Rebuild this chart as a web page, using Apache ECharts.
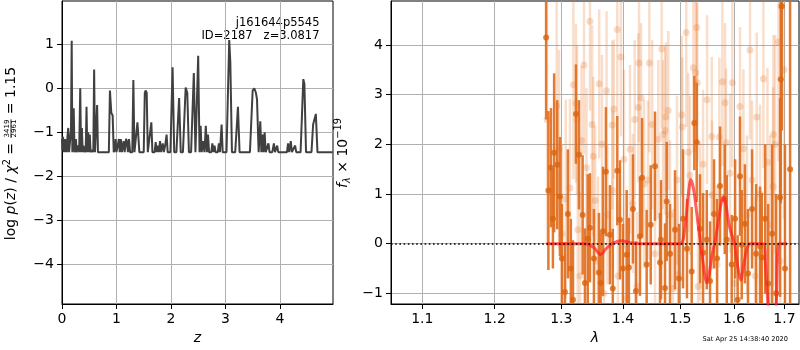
<!DOCTYPE html>
<html>
<head>
<meta charset="utf-8">
<script src="https://cdn.jsdelivr.net/npm/echarts@6/dist/echarts.min.js"></script>
<style>
  html, body { margin: 0; padding: 0; background: #fff; }
  #chart { width: 800px; height: 350px; }
</style>
</head>
<body>
<div id="chart"></div>
<script>
// ---- left panel: log p(z) ----
const zGrid = [
  0.00, 0.01, 0.02, 0.03, 0.04, 0.05, 0.06, 0.07, 0.08, 0.09, 0.10, 0.115, 0.13, 0.15, 0.165, 0.178, 0.19, 0.20, 0.215, 0.23,
  0.245, 0.255, 0.27, 0.285, 0.30, 0.315, 0.335, 0.35, 0.365, 0.38, 0.395, 0.41, 0.425, 0.435, 0.45, 0.465, 0.48, 0.50, 0.51, 0.525,
  0.54, 0.555, 0.575, 0.59, 0.605, 0.625, 0.645, 0.66, 0.86, 0.88, 0.905, 0.93, 0.95, 0.97, 0.985, 1.00, 1.02, 1.045, 1.06, 1.08,
  1.10, 1.13, 1.15, 1.175, 1.19, 1.21, 1.23, 1.25, 1.29, 1.31, 1.33, 1.365, 1.385, 1.40, 1.42, 1.50, 1.52, 1.535, 1.555, 1.575,
  1.61, 1.64, 1.66, 1.70, 1.72, 1.74, 1.76, 1.78, 1.80, 1.82, 1.85, 1.87, 1.90, 1.92, 1.94, 1.99, 2.03, 2.06, 2.10, 2.15,
  2.18, 2.22, 2.27, 2.30, 2.33, 2.37, 2.42, 2.45, 2.47, 2.50, 2.525, 2.545, 2.565, 2.59, 2.615, 2.64, 2.66, 2.68, 2.70, 2.74,
  2.76, 2.78, 2.80, 2.82, 2.86, 2.88, 2.90, 2.93, 2.95, 3.02, 3.07, 3.09, 3.12, 3.18, 3.23, 3.26, 3.45, 3.50, 3.53, 3.56,
  3.58, 3.61, 3.64, 3.66, 3.68, 3.70, 3.72, 3.74, 3.77, 3.79, 3.81, 3.86, 3.89, 3.91, 3.95, 3.97, 4.13, 4.15, 4.17, 4.20,
  4.22, 4.28, 4.30, 4.38, 4.43, 4.45, 4.48, 4.58, 4.61, 4.635, 4.66, 4.69, 4.97
];
const logPz = [
  -1.15, -1.40, -1.10, -1.45, -1.20, -1.45, -1.15, -1.45, -1.25, -1.45, -1.10, -0.90, -1.45, -1.45, -0.95, 1.08, -1.45, -1.20, -0.45, -1.45,
  -1.40, -1.15, -1.45, -1.45, -1.30, -1.45, 0.00, -1.45, -0.90, -1.45, -1.30, -1.45, -1.40, -1.45, -0.42, -1.45, -1.00, -1.45, -1.05, -1.45,
  -1.45, -1.40, -1.45, 0.43, -1.45, -1.45, -0.38, -1.45, -1.45, -0.05, -0.55, -0.62, -1.45, -1.40, -1.15, -1.45, -1.45, -1.15, -1.45, -1.15,
  -1.45, -1.20, -1.45, -1.15, -1.20, -1.45, -1.15, -1.45, -1.45, 0.19, -1.45, -1.45, -0.77, -0.80, -1.45, -1.45, -0.10, -0.05, -0.10, -1.45,
  -1.45, -0.77, -1.45, -1.45, -1.22, -1.45, -1.30, -1.45, -1.20, -1.45, -1.25, -1.45, -1.25, -1.05, -1.45, -1.45, 0.48, -1.45, -1.45, -0.22,
  -1.45, -1.45, 0.02, -0.10, -1.45, -1.45, 0.35, -1.45, -1.45, 0.74, -1.45, -0.85, -1.45, -1.20, -1.45, -0.85, -1.45, -1.05, -1.45, -1.45,
  -1.25, -1.45, -1.30, -1.45, -1.45, -1.25, -1.45, -0.82, -1.45, -1.45, 1.10, 0.60, -1.45, -1.45, -0.42, -1.45, -1.45, -0.05, 0.00, -0.10,
  -0.25, -1.45, -0.75, -1.45, -1.05, -1.45, -1.00, -1.45, -1.45, -1.25, -1.45, -1.45, -1.25, -1.45, -1.30, -1.45, -1.45, -1.25, -1.45, -1.20,
  -1.45, -1.30, -1.45, -1.45, 0.21, 0.10, -1.45, -1.45, -0.82, -0.80, -0.58, -1.45, -1.45
];
const zTicks = [0, 1, 2, 3, 4];
const pzTicks = [-4, -3, -2, -1, 0, 1];

// ---- right panel: spectrum ----
const lamTicks = [1.1, 1.2, 1.3, 1.4, 1.5, 1.6, 1.7];
const fluxTicks = [-1, 0, 1, 2, 3, 4];

const darkLam = [
  1.2765, 1.2800, 1.2840, 1.2870, 1.2889, 1.2937, 1.2979, 1.3010, 1.3057, 1.3104, 1.3150, 1.3184, 1.3231, 1.3279, 1.3338, 1.3375,
  1.3420, 1.3456, 1.3520, 1.3602, 1.3630, 1.3667, 1.3716, 1.3783, 1.3830, 1.3905, 1.3950, 1.4000, 1.4063, 1.4100, 1.4169, 1.4220,
  1.4290, 1.4325, 1.4405, 1.4475, 1.4550, 1.4638, 1.4655, 1.4726, 1.4756, 1.4815, 1.4904, 1.4976, 1.5048, 1.5120, 1.5206, 1.5254,
  1.5298, 1.5359, 1.5415, 1.5484, 1.5545, 1.5620, 1.5677, 1.5733, 1.5822, 1.5860, 1.5955, 1.6020, 1.6070, 1.6115, 1.6148, 1.6210,
  1.6270, 1.6350, 1.6430, 1.6508, 1.6542, 1.6610, 1.6670, 1.6750, 1.6830, 1.6910, 1.6924, 1.6945, 1.7010, 1.7115
];
const darkFlux = [
  4.15, 1.07, 1.53, 0.50, 1.83, 1.59, 0.95, -0.30, -0.97, 0.60, -0.50, -1.13, 2.61, 1.79, 0.58, -0.79,
  0.10, 0.32, -0.30, -0.58, -0.79, 0.25, 1.45, 0.18, -0.90, 1.47, 0.48, -0.50, -0.22, -0.48, 0.70, -0.95,
  0.15, 1.33, -0.42, 0.38, 1.56, -0.38, 0.08, -0.89, 0.85, -0.20, 0.28, -0.70, 0.50, -0.10, -0.56, 2.43,
  2.04, 0.30, -0.18, 0.08, -0.75, 0.60, -0.30, 1.16, 0.89, 0.08, -0.42, 0.50, -1.13, 1.36, -0.02, 0.40,
  -0.60, 0.70, -0.20, -0.05, -0.28, 0.50, -0.80, 0.20, -1.00, 0.93, 3.31, 4.78, -0.50, 1.50
];
const darkErr = [
  1.65, 1.60, 1.20, 1.00, 1.60, 1.30, 1.20, 1.10, 1.00, 1.30, 1.00, 1.20, 1.00, 1.10, 1.20, 1.10,
  1.30, 1.10, 1.00, 1.20, 1.00, 1.30, 1.30, 1.00, 1.20, 1.10, 1.20, 0.90, 1.30, 1.00, 1.10, 1.00,
  1.20, 1.20, 1.10, 1.20, 1.10, 1.00, 1.20, 1.30, 1.20, 1.00, 1.20, 1.10, 1.40, 1.00, 1.30, 0.95,
  1.20, 1.10, 1.20, 1.00, 1.20, 1.10, 1.20, 1.20, 1.10, 1.30, 1.00, 1.20, 1.30, 1.20, 1.10, 1.20,
  1.30, 1.20, 1.40, 1.20, 1.30, 1.50, 1.60, 1.80, 2.00, 2.00, 2.50, 2.50, 2.50, 4.50
];

const lightLam = [
  1.2780, 1.2928, 1.2964, 1.3010, 1.3070, 1.3136, 1.3190, 1.3231, 1.3247, 1.3260, 1.3295, 1.3320, 1.3360, 1.3400, 1.3456, 1.3490,
  1.3510, 1.3540, 1.3586, 1.3606, 1.3652, 1.3684, 1.3727, 1.3740, 1.3821, 1.3830, 1.3848, 1.3905, 1.3916, 1.3966, 1.4017, 1.4068,
  1.4119, 1.4169, 1.4200, 1.4238, 1.4261, 1.4273, 1.4307, 1.4360, 1.4428, 1.4451, 1.4500, 1.4550, 1.4608, 1.4667, 1.4690, 1.4726,
  1.4744, 1.4784, 1.4815, 1.4868, 1.4940, 1.4958, 1.5024, 1.5035, 1.5107, 1.5144, 1.5175, 1.5236, 1.5280, 1.5298, 1.5310, 1.5322,
  1.5359, 1.5415, 1.5490, 1.5577, 1.5583, 1.5677, 1.5720, 1.5777, 1.5828, 1.5847, 1.5923, 1.5967, 1.6020, 1.6115, 1.6180, 1.6250,
  1.6310, 1.6350, 1.6410, 1.6442, 1.6508, 1.6575, 1.6655, 1.6708, 1.6770, 1.6775, 1.6810, 1.6877, 1.6910, 1.6930, 1.6990
];
const lightFlux = [
  2.50, 2.77, 1.90, 0.20, 0.90, 1.12, 3.20, 2.83, 2.50, 0.28, -0.65, 2.08, 3.60, 1.53, 4.48, 2.40,
  1.76, 0.87, -0.35, 3.22, 2.00, -1.00, 3.08, 0.58, 2.39, 1.07, 2.71, 4.31, -0.65, 3.76, 1.70, -1.10,
  1.90, 0.81, 2.50, -0.86, 2.74, 3.64, 2.94, 1.20, 1.28, 3.64, 2.40, -0.20, 2.10, 3.92, 2.20, 2.28,
  2.55, 2.68, 0.58, -0.90, 1.28, -0.62, 2.59, 2.35, 4.25, 1.84, 1.38, 3.54, 3.44, 4.35, 3.24, -0.86,
  0.45, 1.60, 2.90, 2.16, 0.98, -0.42, 2.15, 3.26, 2.84, 2.03, 1.42, 3.24, -0.80, 2.76, 1.91, 0.58,
  3.90, 1.28, -0.65, 2.55, 1.00, 3.32, 1.64, 0.38, 1.15, 2.20, 2.00, 4.06, -0.35, 4.78, 3.50
];
const lightErr = [
  2.50, 2.20, 2.00, 1.80, 2.00, 1.80, 1.90, 1.60, 1.50, 1.70, 1.70, 1.50, 1.80, 1.60, 1.80, 2.00,
  1.60, 1.50, 1.70, 1.50, 1.80, 1.50, 1.60, 1.40, 1.70, 1.60, 1.40, 1.80, 1.50, 1.60, 1.80, 1.60,
  1.70, 1.40, 1.60, 1.50, 1.50, 1.60, 1.50, 1.70, 1.60, 1.80, 1.70, 1.60, 1.60, 1.60, 1.50, 1.70,
  1.50, 1.60, 1.50, 1.60, 1.70, 1.60, 1.60, 1.40, 1.90, 1.60, 1.60, 1.70, 1.60, 1.90, 1.60, 1.50,
  1.60, 1.50, 1.70, 1.60, 1.50, 1.60, 1.60, 1.70, 1.60, 1.50, 1.60, 1.70, 1.50, 1.60, 1.60, 1.60,
  1.80, 1.60, 1.60, 1.70, 1.80, 1.80, 1.90, 1.80, 2.00, 2.00, 2.20, 2.40, 2.40, 2.50, 3.00
];

const modelLam = [
  1.277, 1.300, 1.340, 1.352, 1.363, 1.372, 1.382, 1.397, 1.412, 1.430, 1.470, 1.500, 1.508, 1.514, 1.519,
  1.524, 1.530, 1.537, 1.543, 1.548, 1.553, 1.558, 1.563, 1.570, 1.576, 1.580, 1.585, 1.590, 1.595, 1.601,
  1.607, 1.613, 1.619, 1.625, 1.631, 1.645, 1.657, 1.662, 1.667, 1.672, 1.678, 1.683, 1.688, 1.695, 1.705
];
const modelFlux = [
  0, 0, 0, -0.08, -0.22, -0.10, 0.00, 0.06, 0.02, 0, 0, 0, 0.30, 0.95, 1.29,
  1.10, 0.60, 0.00, -0.50, -0.79, -0.60, -0.25, 0.00, 0.45, 0.85, 0.95, 0.75, 0.40, 0.20, 0.00,
  -0.45, -0.73, -0.40, -0.10, 0, 0, 0, -0.50, -1.30, -2.00, -2.00, -1.30, 0, 0, 0
];

const FONT = 'DejaVu Sans';
const minus = v => String(v).replace('-', '\u2212');
const lg = Math.log10;

const chart = echarts.init(document.getElementById('chart'), null, { renderer: 'canvas' });

// errorbar renderer: vertical segment clipped to the grid
function errorBars(color, width) {
  return function (params, api) {
    const x = api.value(0), y = api.value(1), e = api.value(2);
    const lo = api.coord([x, y - e]);
    const hi = api.coord([x, y + e]);
    const cs = params.coordSys;
    const clamp = v => Math.min(Math.max(v, cs.y), cs.y + cs.height);
    const y1 = clamp(lo[1]), y2 = clamp(hi[1]);
    if (y1 === y2) return null;
    return {
      type: 'line',
      shape: { x1: lo[0], y1: y1, x2: hi[0], y2: y2 },
      style: { stroke: color, lineWidth: width }
    };
  };
}

// rotated axis titles built from pieces, measured with canvas
const mctx = document.createElement('canvas').getContext('2d');
function tw(str, size, italic) {
  mctx.font = (italic ? 'italic ' : '') + size + 'px "' + FONT + '"';
  return mctx.measureText(str).width;
}
function txt(x, base, str, size, italic, align) {
  return {
    type: 'text', x: x, y: base - 0.35 * size,
    style: { text: str, fontSize: size, fontFamily: FONT, fontStyle: italic ? 'italic' : 'normal',
             fill: '#000', align: align, verticalAlign: 'middle' }
  };
}
function verticalTitle(baseX, centerY, pieces) {
  const widths = pieces.map(p => p.frac
    ? Math.max(tw(p.frac[0], p.size), tw(p.frac[1], p.size)) + 2
    : tw(p.text, p.size, p.italic));
  const total = widths.reduce((a, b) => a + b, 0);
  const children = [];
  let x = -total / 2;
  pieces.forEach((p, i) => {
    const w = widths[i];
    if (p.frac) {
      children.push(txt(x + w / 2, p.num, p.frac[0], p.size, false, 'center'));
      children.push(txt(x + w / 2, p.den, p.frac[1], p.size, false, 'center'));
      children.push({ type: 'rect', shape: { x: x + 0.5, y: p.bar - 0.4, width: w - 1, height: 0.8 }, style: { fill: '#000' } });
    } else {
      children.push(txt(x, p.shift || 0, p.text, p.size, p.italic, 'left'));
    }
    x += w;
  });
  return { type: 'group', x: baseX, y: centerY, rotation: Math.PI / 2, children: children };
}

const tickLabel = { color: '#000', fontSize: 14, fontFamily: FONT };
const gridLine = { show: true, lineStyle: { color: '#b0b0b0', width: 1 } };
const blackLine = { show: true, onZero: false, lineStyle: { color: '#000', width: 1 } };
const tick = { show: true, length: 5, lineStyle: { color: '#000', width: 1 } };

const option = {
  animation: false,
  backgroundColor: '#fff',
  grid: [
    { left: 62, top: 1, width: 271, height: 303, show: true, borderColor: '#000', borderWidth: 1 },
    { left: 391, top: 1, width: 408, height: 303, show: true, borderColor: '#000', borderWidth: 1 }
  ],
  xAxis: [
    {
      type: 'value', gridIndex: 0, min: 0, max: 4.975,
      name: 'z', nameLocation: 'middle', nameGap: 27,
      nameTextStyle: { color: '#000', fontSize: 14, fontFamily: FONT, fontStyle: 'italic' },
      axisLine: blackLine, axisTick: Object.assign({ customValues: zTicks }, tick),
      axisLabel: Object.assign({ customValues: zTicks, margin: 8, formatter: minus }, tickLabel),
      splitLine: gridLine
    },
    {
      type: 'value', gridIndex: 1, min: lg(1.0594), max: lg(1.7299),
      name: 'λ', nameLocation: 'middle', nameGap: 27,
      nameTextStyle: { color: '#000', fontSize: 14, fontFamily: FONT, fontStyle: 'italic' },
      axisLine: blackLine, axisTick: Object.assign({ customValues: lamTicks.map(lg) }, tick),
      axisLabel: Object.assign({ customValues: lamTicks.map(lg), margin: 8,
        formatter: v => Math.pow(10, v).toFixed(1) }, tickLabel),
      splitLine: gridLine
    }
  ],
  yAxis: [
    {
      type: 'value', gridIndex: 0, min: -4.90, max: 1.985,
      axisLine: blackLine, axisTick: Object.assign({ customValues: pzTicks }, tick),
      axisLabel: Object.assign({ customValues: pzTicks, margin: 8, formatter: minus }, tickLabel),
      splitLine: gridLine
    },
    {
      type: 'value', gridIndex: 1, min: -1.214, max: 4.886,
      axisLine: blackLine, axisTick: Object.assign({ customValues: fluxTicks }, tick),
      axisLabel: Object.assign({ customValues: fluxTicks, margin: 8, formatter: minus }, tickLabel),
      splitLine: gridLine
    }
  ],
  graphic: [
    {
      type: 'text', x: 319.5, y: 16,
      style: { text: 'j161644p5545\nID=2187   z=3.0817', fontSize: 11.5, lineHeight: 13.3, fontFamily: FONT,
               fill: '#000', align: 'right', verticalAlign: 'top' }
    },
    {
      type: 'text', x: 788, y: 339,
      style: { text: 'Sat Apr 25 14:38:40 2020', fontSize: 6.6, fontFamily: FONT, fill: '#000',
               align: 'right', verticalAlign: 'middle' }
    },
    verticalTitle(16.5, 153.5, [
      { text: 'log ', size: 14 }, { text: 'p', size: 14, italic: true }, { text: '(', size: 14 },
      { text: 'z', size: 14, italic: true }, { text: ') / ', size: 14 }, { text: 'χ', size: 14, italic: true },
      { text: '2', size: 9.8, shift: -5.5 }, { text: ' = ', size: 14 },
      { frac: ['3419', '2961'], size: 7, num: -6.4, den: 0.3, bar: -5.5 },
      { text: ' = 1.15', size: 14 }
    ]),
    verticalTitle(348, 153, [
      { text: 'f', size: 14, italic: true }, { text: 'λ', size: 9.8, italic: true, shift: 2.5 },
      { text: ' × 10', size: 14 }, { text: '−19', size: 9.8, shift: -6 }
    ])
  ],
  series: [
    {
      type: 'line', xAxisIndex: 0, yAxisIndex: 0,
      data: zGrid.map((z, i) => [z, logPz[i]]),
      showSymbol: false, lineStyle: { color: '#404040', width: 2 }, silent: true
    },
    {
      type: 'custom', xAxisIndex: 1, yAxisIndex: 1,
      data: lightLam.map((l, i) => [lg(l), lightFlux[i], lightErr[i]]),
      renderItem: errorBars('rgba(232,128,55,0.26)', 2.5), encode: { x: 0, y: 1 }, silent: true
    },
    {
      type: 'scatter', xAxisIndex: 1, yAxisIndex: 1,
      data: lightLam.map((l, i) => [lg(l), lightFlux[i]]),
      symbolSize: 7, itemStyle: { color: 'rgba(226,116,40,0.3)' }, silent: true
    },
    {
      type: 'custom', xAxisIndex: 1, yAxisIndex: 1,
      data: darkLam.map((l, i) => [lg(l), darkFlux[i], darkErr[i]]),
      renderItem: errorBars('rgba(224,108,28,0.9)', 2.5), encode: { x: 0, y: 1 }, silent: true
    },
    {
      type: 'scatter', xAxisIndex: 1, yAxisIndex: 1,
      data: darkLam.map((l, i) => [lg(l), darkFlux[i]]),
      symbolSize: 6, itemStyle: { color: '#d9640f' }, silent: true
    },
    {
      type: 'line', xAxisIndex: 1, yAxisIndex: 1,
      data: modelLam.map((l, i) => [lg(l), modelFlux[i]]),
      showSymbol: false, smooth: 0.3, lineStyle: { color: 'rgba(255,30,30,0.7)', width: 3 }, silent: true,
      markLine: {
        silent: true, symbol: ['none', 'none'], label: { show: false },
        lineStyle: { color: '#000', width: 1.6, type: [1.6, 2.6] },
        data: [{ yAxis: 0 }]
      }
    }
  ]
};

chart.setOption(option);
</script>
</body>
</html>
